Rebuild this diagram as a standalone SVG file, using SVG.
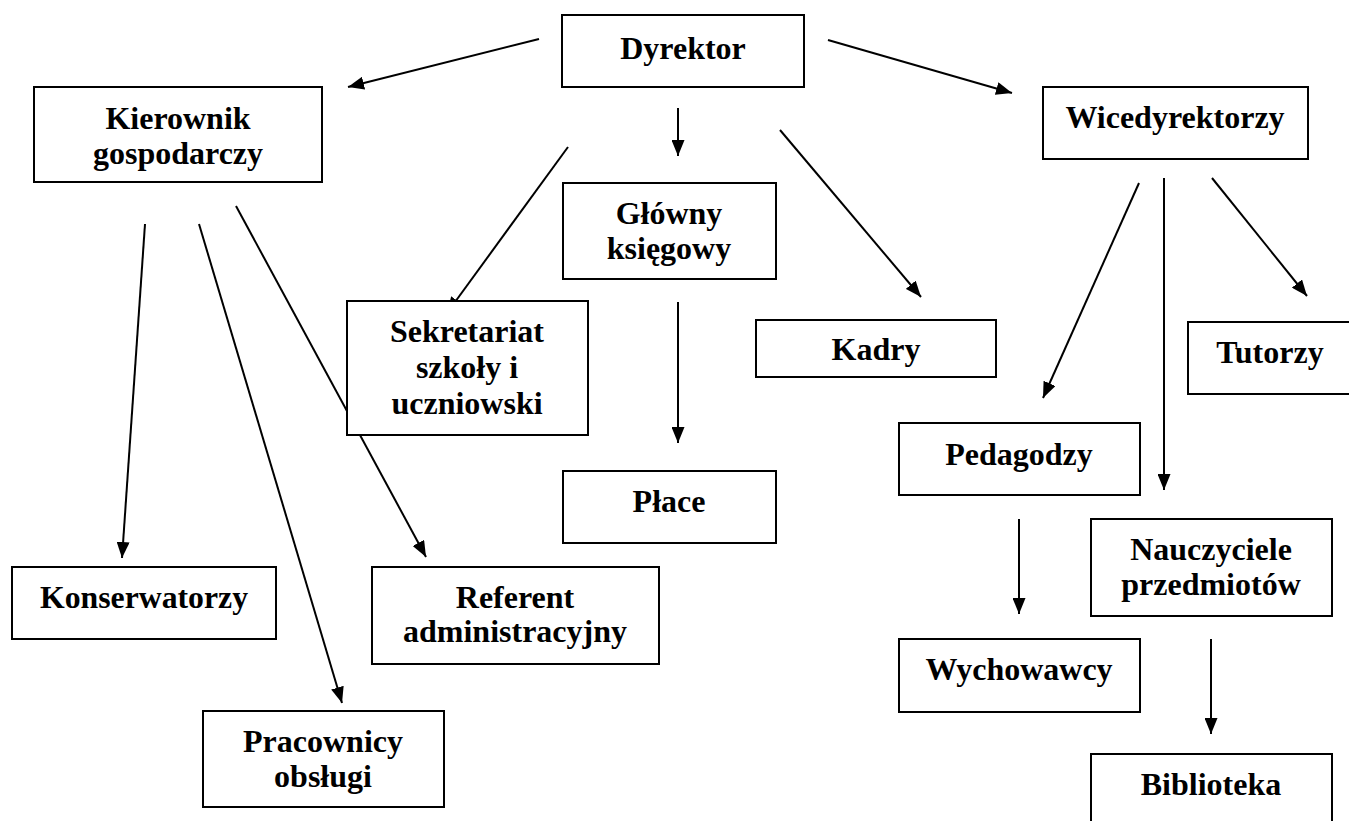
<svg xmlns="http://www.w3.org/2000/svg" width="1349" height="821" viewBox="0 0 1349 821" font-family="'Liberation Serif', 'Times New Roman', serif" font-weight="bold" font-size="32">
<defs>
<marker id="ah" markerUnits="userSpaceOnUse" markerWidth="17" markerHeight="13" refX="16" refY="6.5" orient="auto">
<path d="M0,0 L16,6.5 L0,13 z" fill="#000"/>
</marker>
<style>
.box{fill:#fff;stroke:#000;stroke-width:2}
.t{fill:#000;text-anchor:middle}
.c line{stroke:#000;stroke-width:2;marker-end:url(#ah)}
</style>
</defs>
<rect width="1349" height="821" fill="#fff"/>
<g class="c" id="connectors">
<line x1="539" y1="39" x2="348" y2="87"/>
<line x1="828" y1="40" x2="1012" y2="93"/>
<line x1="678" y1="108" x2="678" y2="156"/>
<line x1="568" y1="147" x2="447" y2="313"/>
<line x1="780" y1="130" x2="921" y2="297"/>
<line x1="678" y1="302" x2="678" y2="443"/>
<line x1="145" y1="224" x2="122" y2="558"/>
<line x1="199" y1="224" x2="342" y2="703"/>
<line x1="236" y1="206" x2="426" y2="557"/>
<line x1="1139" y1="183" x2="1043" y2="398"/>
<line x1="1164" y1="178" x2="1164" y2="490"/>
<line x1="1212" y1="178" x2="1307" y2="296"/>
<line x1="1019" y1="519" x2="1019" y2="614"/>
<line x1="1211" y1="639" x2="1211" y2="734"/>
</g>
<g id="dyrektor"><rect class="box" x="562" y="15" width="242" height="72"/><text class="t" x="683" y="59">Dyrektor</text></g>
<g id="kierownik"><rect class="box" x="34" y="87" width="288" height="95"/><text class="t" x="178" y="129">Kierownik</text><text class="t" x="178" y="164">gospodarczy</text></g>
<g id="wicedyrektorzy"><rect class="box" x="1043" y="87" width="265" height="72"/><text class="t" x="1175" y="128">Wicedyrektorzy</text></g>
<g id="glowny"><rect class="box" x="563" y="183" width="213" height="96"/><text class="t" x="669" y="224">Główny</text><text class="t" x="669" y="259">księgowy</text></g>
<g id="sekretariat"><rect class="box" x="347" y="301" width="241" height="134"/><text class="t" x="467" y="342">Sekretariat</text><text class="t" x="467" y="378">szkoły i</text><text class="t" x="467" y="414">uczniowski</text></g>
<g id="kadry"><rect class="box" x="756" y="320" width="240" height="57"/><text class="t" x="876" y="360">Kadry</text></g>
<g id="tutorzy"><rect class="box" x="1188" y="322" width="164" height="72"/><text class="t" x="1270" y="363">Tutorzy</text></g>
<g id="pedagodzy"><rect class="box" x="899" y="423" width="241" height="72"/><text class="t" x="1019" y="465">Pedagodzy</text></g>
<g id="place"><rect class="box" x="563" y="471" width="213" height="72"/><text class="t" x="669" y="512">Płace</text></g>
<g id="nauczyciele"><rect class="box" x="1091" y="519" width="241" height="97"/><text class="t" x="1211" y="560">Nauczyciele</text><text class="t" x="1211" y="595">przedmiotów</text></g>
<g id="konserwatorzy"><rect class="box" x="12" y="567" width="264" height="72"/><text class="t" x="144" y="608" textLength="208" lengthAdjust="spacingAndGlyphs">Konserwatorzy</text></g>
<g id="referent"><rect class="box" x="372" y="567" width="287" height="97"/><text class="t" x="515" y="608">Referent</text><text class="t" x="515" y="642">administracyjny</text></g>
<g id="wychowawcy"><rect class="box" x="899" y="639" width="241" height="73"/><text class="t" x="1019" y="680">Wychowawcy</text></g>
<g id="pracownicy"><rect class="box" x="203" y="711" width="241" height="96"/><text class="t" x="323" y="752">Pracownicy</text><text class="t" x="323" y="787">obsługi</text></g>
<g id="biblioteka"><rect class="box" x="1091" y="754" width="241" height="80"/><text class="t" x="1211" y="795">Biblioteka</text></g>
</svg>
